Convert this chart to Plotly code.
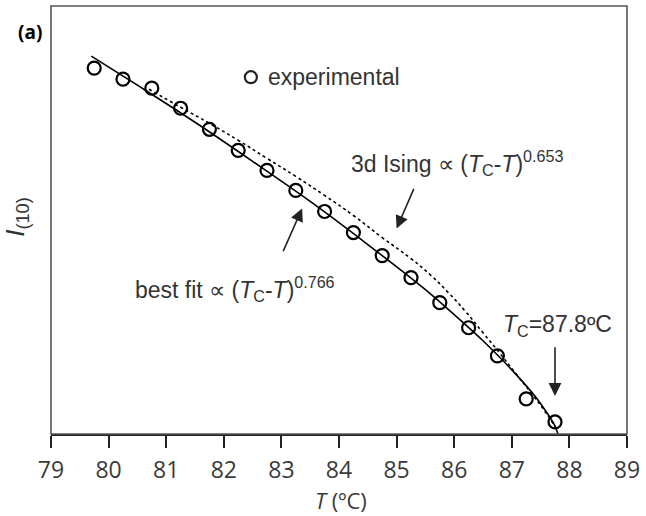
import plotly.graph_objects as go

# Experimental points (T in degC, intensity in arbitrary units)
T_exp = [79.75, 80.25, 80.75, 81.25, 81.75, 82.25, 82.75, 83.25, 83.75,
         84.25, 84.75, 85.25, 85.75, 86.25, 86.75, 87.25, 87.75]
I_exp = [3.65, 3.54, 3.45, 3.25, 3.04, 2.83, 2.63, 2.43, 2.22,
         2.01, 1.78, 1.56, 1.31, 1.06, 0.78, 0.35, 0.12]

# Best fit curve
T_fit = [79.7, 80.5, 81.5, 82.5, 83.5, 84.5, 85.5, 86.0, 86.5, 87.0, 87.4, 87.6, 87.75, 87.8]
I_fit = [3.77, 3.48, 3.11, 2.72, 2.32, 1.89, 1.44, 1.19, 0.93, 0.64, 0.38, 0.22, 0.08, 0.0]

# 3d Ising curve
T_ising = [80.7, 81.25, 81.75, 82.25, 82.75, 83.25, 83.75, 84.25, 84.75,
           85.25, 85.6, 85.9, 86.2, 86.5, 86.8, 87.1, 87.35, 87.57, 87.78]
I_ising = [3.44, 3.26, 3.10, 2.93, 2.75, 2.57, 2.38, 2.18, 1.96,
           1.75, 1.58, 1.41, 1.22, 1.01, 0.80, 0.58, 0.40, 0.23, 0.05]

x_ticks = [79, 80, 81, 82, 83, 84, 85, 86, 87, 88, 89]

FONT = "Liberation Sans, Arial, sans-serif"
AXFONT = "Open Sans, Liberation Sans, sans-serif"
TXT = "#333333"

fig = go.Figure()
fig.add_trace(go.Scatter(x=T_ising, y=I_ising, mode="lines",
                         line=dict(color="black", width=1.6, dash="3px,3px", shape="spline",
                                   smoothing=1.3),
                         showlegend=False, hoverinfo="skip"))
fig.add_trace(go.Scatter(x=T_fit, y=I_fit, mode="lines",
                         line=dict(color="black", width=1.6, shape="spline"),
                         showlegend=False, hoverinfo="skip"))
fig.add_trace(go.Scatter(x=T_exp, y=I_exp, mode="markers",
                         marker=dict(symbol="circle-open", size=13, color="black",
                                     line=dict(width=2.2, color="black")),
                         showlegend=False))
# legend marker
fig.add_trace(go.Scatter(x=[82.47], y=[3.56], mode="markers",
                         marker=dict(symbol="circle-open", size=12, color="#222",
                                     line=dict(width=2.2, color="#222")),
                         showlegend=False, hoverinfo="skip"))

ann = []
ann.append(dict(x=82.73, y=3.56, xref="x", yref="y", text="experimental",
                showarrow=False, xanchor="left", yanchor="middle",
                font=dict(family=FONT, size=23, color=TXT)))
ann.append(dict(x=84.17, y=2.70, xref="x", yref="y",
                text="3d Ising \u221d (<i>T</i><sub>C</sub>-<i>T</i>)<sup>0.653</sup>",
                showarrow=False, xanchor="left", yanchor="middle",
                font=dict(family=FONT, size=23, color=TXT)))
ann.append(dict(x=80.42, y=1.45, xref="x", yref="y",
                text="best fit \u221d (<i>T</i><sub>C</sub>-<i>T</i>)<sup>0.766</sup>",
                showarrow=False, xanchor="left", yanchor="middle",
                font=dict(family=FONT, size=23, color=TXT)))
ann.append(dict(x=86.82, y=1.08, xref="x", yref="y",
                text="<i>T</i><sub>C</sub>=87.8\u00baC",
                showarrow=False, xanchor="left", yanchor="middle",
                font=dict(family=FONT, size=23, color=TXT)))
# arrows
for (xt, yt, xs, ys) in [(85.00, 2.05, 85.31, 2.46),
                         (83.36, 2.25, 83.02, 1.81),
                         (87.75, 0.38, 87.75, 0.88)]:
    ann.append(dict(x=xt, y=yt, ax=xs, ay=ys, xref="x", yref="y", axref="x", ayref="y",
                    text="", showarrow=True, arrowhead=2, arrowsize=1.6, arrowwidth=1.6,
                    arrowcolor="#222"))
# panel label
ann.append(dict(x=(30 - 51) / 582, y=(433 - 32) / 427, xref="paper", yref="paper",
                text="<b>(a)</b>", showarrow=False, xanchor="center", yanchor="middle",
                font=dict(family=AXFONT, size=19, color="black")))
# y-axis title
ann.append(dict(x=(16 - 51) / 582, y=(433 - 216) / 427, xref="paper", yref="paper",
                text="<i>I</i><sub>(10)</sub>", showarrow=False, textangle=-90,
                xanchor="center", yanchor="middle",
                font=dict(family=FONT, size=26, color=TXT)))
# x-axis title
ann.append(dict(x=(344 - 51) / 582, y=(433 - 499) / 427, xref="paper", yref="paper",
                text="<i>T</i> (\u00baC)", showarrow=False,
                xanchor="center", yanchor="middle",
                font=dict(family=AXFONT, size=22, color="#3a3a3a")))

fig.update_layout(
    width=646, height=516,
    margin=dict(l=51, r=13, t=6, b=82),
    paper_bgcolor="white", plot_bgcolor="white",
    annotations=ann,
    shapes=[dict(type="rect", xref="paper", yref="paper", x0=0, y0=0, x1=1, y1=1,
                 line=dict(color="#555", width=1.6), layer="above")],
    xaxis=dict(range=[79, 89], tickvals=x_ticks, ticktext=[str(t) for t in x_ticks],
               ticks="outside", ticklen=12, tickwidth=2, tickcolor="#222",
               ticklabelstandoff=2, ticklabeloverflow="allow",
               showline=True, linecolor="#222", linewidth=2.2, mirror=False,
               showgrid=False, zeroline=False,
               tickfont=dict(family=AXFONT, size=23, color="#3a3a3a")),
    yaxis=dict(range=[0, 4.27], showticklabels=False, ticks="", showgrid=False,
               zeroline=False, showline=False),
)

fig.write_html("out.html")
